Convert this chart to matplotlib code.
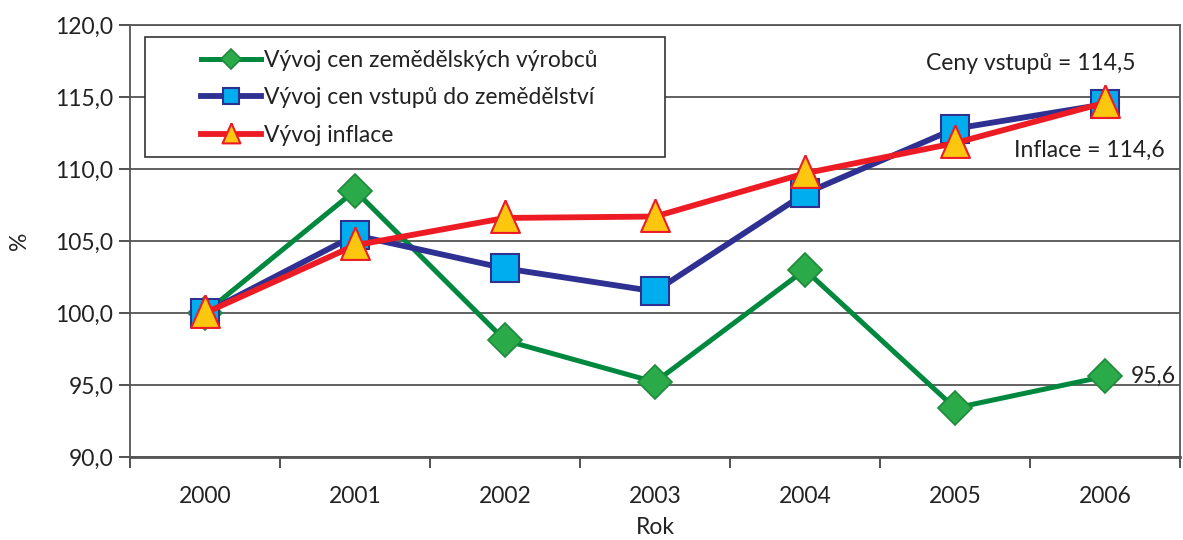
import numpy as np
import matplotlib.pyplot as plt
from matplotlib.lines import Line2D
from matplotlib.patches import Rectangle

years = ["2000", "2001", "2002", "2003", "2004", "2005", "2006"]
vyrobci = [100.0, 108.5, 98.1, 95.2, 103.0, 93.4, 95.6]
vstupy = [100.0, 105.4, 103.1, 101.5, 108.3, 112.8, 114.5]
inflace = [100.0, 104.7, 106.6, 106.7, 109.7, 111.8, 114.6]

labels = ["Vývoj cen zemědělských výrobců",
          "Vývoj cen vstupů do zemědělství",
          "Vývoj inflace"]

plt.rcParams['font.family'] = ['Lato', 'DejaVu Sans']
FS = 16.5
TXT = '#222222'

# taller triangle like the original
tri = [(0, 1.25), (-1, -1), (1, -1), (0, 1.25)]

green = dict(color='#00893E', lw=3.6, marker='D', ms=17,
             mfc='#2BAA4A', mec='#1E8A3A', mew=1.2)
blue = dict(color='#2E3192', lw=4.2, marker='s', ms=20,
            mfc='#00AEEF', mec='#2E3192', mew=1.5)
red = dict(color='#ED1C24', lw=4.2, marker=tri, ms=26,
           mfc='#FDC70F', mec='#ED1C24', mew=1.5)

fig = plt.figure(figsize=(11.83, 5.40), dpi=100)
ax = fig.add_axes([130/1183, 1 - 457/540, 1050/1183, 432/540])

x = np.arange(len(years))
ax.plot(x, vyrobci, zorder=3, **green)
ax.plot(x, vstupy, zorder=4, **blue)
ax.plot(x, inflace, zorder=5, **red)

ax.set_xlim(-0.5, len(years) - 0.5)
ax.set_ylim(90, 120)
ax.set_yticks(np.arange(90, 121, 5))
ax.set_yticklabels([f"{v:.1f}".replace('.', ',') for v in np.arange(90, 121, 5)])
ax.set_xticks(x)
ax.set_xticklabels(years)
ax.set_xticks(np.arange(-0.5, len(years)), minor=True)
ax.tick_params(axis='x', which='major', length=0, pad=21, labelsize=FS, colors=TXT)
ax.tick_params(axis='x', which='minor', length=8, width=1.2, color='#333333')
ax.tick_params(axis='y', length=8, width=1.2, color='#333333', labelsize=FS,
               labelcolor=TXT, pad=4)
ax.grid(axis='y', color='#555555', lw=1.3, zorder=0)
for s in ax.spines.values():
    s.set_color('#555555')
    s.set_linewidth(1.3)
ax.spines['bottom'].set_linewidth(2)

ax.set_ylabel('%', fontsize=FS, color=TXT, labelpad=18)
ax.set_xlabel('Rok', fontsize=FS, color=TXT, labelpad=7)

ax.text(len(years) - 1 + 0.2, 117.3, "Ceny vstupů = 114,5", ha='right', va='center',
        fontsize=FS, color=TXT)
ax.text(len(years) - 1 + 0.4, 111.3, "Inflace = 114,6", ha='right', va='center',
        fontsize=FS, color=TXT)
ax.text(len(years) - 1 + 0.17, vyrobci[-1], "95,6", ha='left', va='center',
        fontsize=FS, color=TXT)

# legend box drawn separately so the handles can sit indented like the original
ax.add_patch(Rectangle((0.0143, 0.694), 0.4952, 0.278, transform=ax.transAxes,
                       facecolor='white', edgecolor='#333333', lw=1.2, zorder=9))
handles = [
    Line2D([], [], **{**green, 'ms': 10}),
    Line2D([], [], **{**blue, 'ms': 12}),
    Line2D([], [], **{**red, 'ms': 16}),
]
leg = ax.legend(handles, labels, loc='upper left', bbox_to_anchor=(0.068, 0.943),
                fontsize=FS, frameon=False, handlelength=2.6,
                borderpad=0, labelspacing=0.72, handletextpad=0.15,
                borderaxespad=0)
for t in leg.get_texts():
    t.set_color(TXT)
leg.set_zorder(10)

fig.savefig('out.png', dpi=100)
